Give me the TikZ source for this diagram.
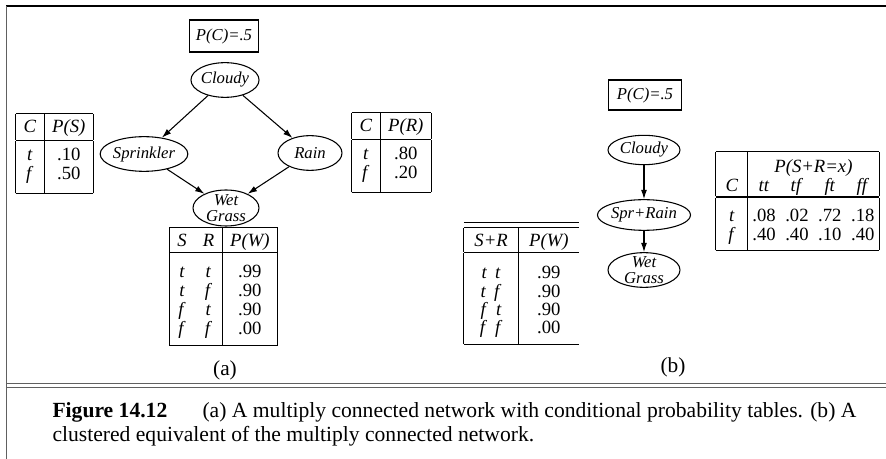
\documentclass[tikz,border=0pt]{standalone}
\usepackage{fontspec}
\setmainfont{Liberation Serif}
\usetikzlibrary{shapes.geometric,arrows.meta,positioning}
\setlength{\arrayrulewidth}{0.9pt}

\begin{document}
\begin{tikzpicture}[x=0.75pt,y=-0.75pt,thick,>={Latex[length=7pt,width=4.5pt]},
    var/.style={ellipse,draw,inner xsep=0pt,inner ysep=0pt,minimum height=26pt,
                font=\fontsize{12.5}{11.5}\selectfont\itshape},
    prior/.style={draw,minimum height=24pt,inner xsep=4.5pt,
                  font=\fontsize{12.5}{14}\selectfont\itshape},
    cpt/.style={inner sep=0pt,font=\fontsize{14}{13}\selectfont},
    sublabel/.style={font=\fontsize{16}{18}\selectfont},
    caption/.style={anchor=base west,inner sep=0pt,font=\fontsize{16.2}{18}\selectfont},
    rulefig/.style={gray!75!black,line width=1.4pt}]
  \useasboundingbox (0,0) rectangle (886,459);

  % frame
  \draw[black,line width=1.5pt] (6,6.5) -- (886,6.5);
  \draw[rulefig] (6.5,6) -- (6.5,459);
  \draw[rulefig,line width=1pt] (6,383.5) -- (886,383.5) (6,387.5) -- (886,387.5);

  % (a) the multiply connected network
  \node[prior] (pc_a) at (224,36) {P(C)=.5};
  \node[var,minimum width=48pt]            (cloudy_a) at (225,80)  {Cloudy};
  \node[var]                               (sprinkler_a) at (144,154) {Sprinkler};
  \node[var,minimum width=48pt]            (rain_a) at (310,153)  {Rain};
  \node[var,minimum width=49.5pt,minimum height=27pt,inner ysep=-2.5pt,align=center]
                                           (wet_a) at (226,208)   {Wet\\Grass};

  \path[->] (cloudy_a)    edge (sprinkler_a)
                          edge (rain_a)
            (sprinkler_a) edge (wet_a)
            (rain_a)      edge (wet_a);

  \node[cpt] (cpt_s) at (54.5,153.5) {%
    \begin{tabular}{|c|c|}\hline
      \rule{0pt}{14pt}\textit{C} & \textit{P(S)}\\[1.6pt]\hline
      \rule{0pt}{15pt}\textit{t} & .10\\
      \textit{f} & .50\\[6.6pt]\hline
    \end{tabular}};
  \node[cpt] (cpt_r) at (391.5,152.5) {%
    \begin{tabular}{|c|c|}\hline
      \rule{0pt}{14pt}\textit{C} & \textit{P(R)}\\[1.6pt]\hline
      \rule{0pt}{15pt}\textit{t} & .80\\
      \textit{f} & .20\\[6.6pt]\hline
    \end{tabular}};
  \node[cpt] (cpt_w_a) at (223.5,286.5) {%
    \renewcommand{\arraystretch}{1.1}\setlength{\tabcolsep}{6pt}%
    \begin{tabular}{|cc|c|}\hline
      \rule{0pt}{13.5pt}\textit{S} & \textit{R} & \textit{P(W)}\\\hline
      \rule{0pt}{18pt}\textit{t} & \textit{t} & .99\\
      \textit{t} & \textit{f} & .90\\
      \textit{f} & \textit{t} & .90\\
      \textit{f} & \textit{f} & .00\\[3.2pt]\hline
    \end{tabular}};

  \node[sublabel] (label_a) at (225,370) {(a)};

  % (b) the clustered equivalent
  \node[prior,inner xsep=6.5pt,minimum height=22.5pt] (pc_b) at (645,95) {P(C)=.5};
  \node[var,minimum width=54pt,minimum height=22pt] (cloudy_b) at (644,150) {Cloudy};
  \node[var,minimum height=23pt]                    (sprrain_b) at (644,215) {Spr+Rain};
  \node[var,minimum width=54pt,minimum height=26pt,inner ysep=-2.5pt,align=center]
                                                    (wet_b) at (644,270) {Wet\\Grass};

  \path[->] (cloudy_b)  edge (sprrain_b)
            (sprrain_b) edge (wet_b);

  \node[cpt] (cpt_sr) at (797.5,201) {%
    \setlength{\tabcolsep}{3.6pt}%
    \begin{tabular}{|@{\hspace{7pt}}c@{\hspace{7pt}}|cccc|}\hline
      \rule{0pt}{15.75pt} & \multicolumn{4}{c|}{\textit{P(S+R=x)}}\\
      \textit{C} & \textit{tt} & \textit{tf} & \textit{ft} & \textit{ff}\\\hline
      \rule{0pt}{18pt}\textit{t} & .08 & .02 & .72 & .18\\
      \textit{f} & .40 & .40 & .10 & .40\\[3.6pt]\hline
    \end{tabular}};
  \node[cpt] (cpt_w_b) at (521.5,283.5) {%
    \setlength{\tabcolsep}{8pt}\setlength{\doublerulesep}{4pt}%
    \begin{tabular}{|c|c}\hline\hline
      \rule{0pt}{13.5pt}\textit{S+R} & \textit{P(W)}\\\hline
      \rule{0pt}{19.5pt}\textit{t}\hspace{6pt}\textit{t} & .99\\
      \textit{t}\hspace{6pt}\textit{f} & .90\\
      \textit{f}\hspace{6pt}\textit{t} & .90\\
      \textit{f}\hspace{6pt}\textit{f} & .00\\[3.6pt]\hline
    \end{tabular}};

  \node[sublabel] (label_b) at (673,367) {(b)};

  % caption
  \node[caption,font=\fontsize{16.2}{18}\selectfont\bfseries] (fignum) at (52,418) {Figure 14.12};
  \node[caption] (caption1) at (202,418)
    {(a) A multiply connected network with conditional probability tables. (b) A};
  \node[caption] (caption2) at (52,442)
    {clustered equivalent of the multiply connected network.};
\end{tikzpicture}
\end{document}
